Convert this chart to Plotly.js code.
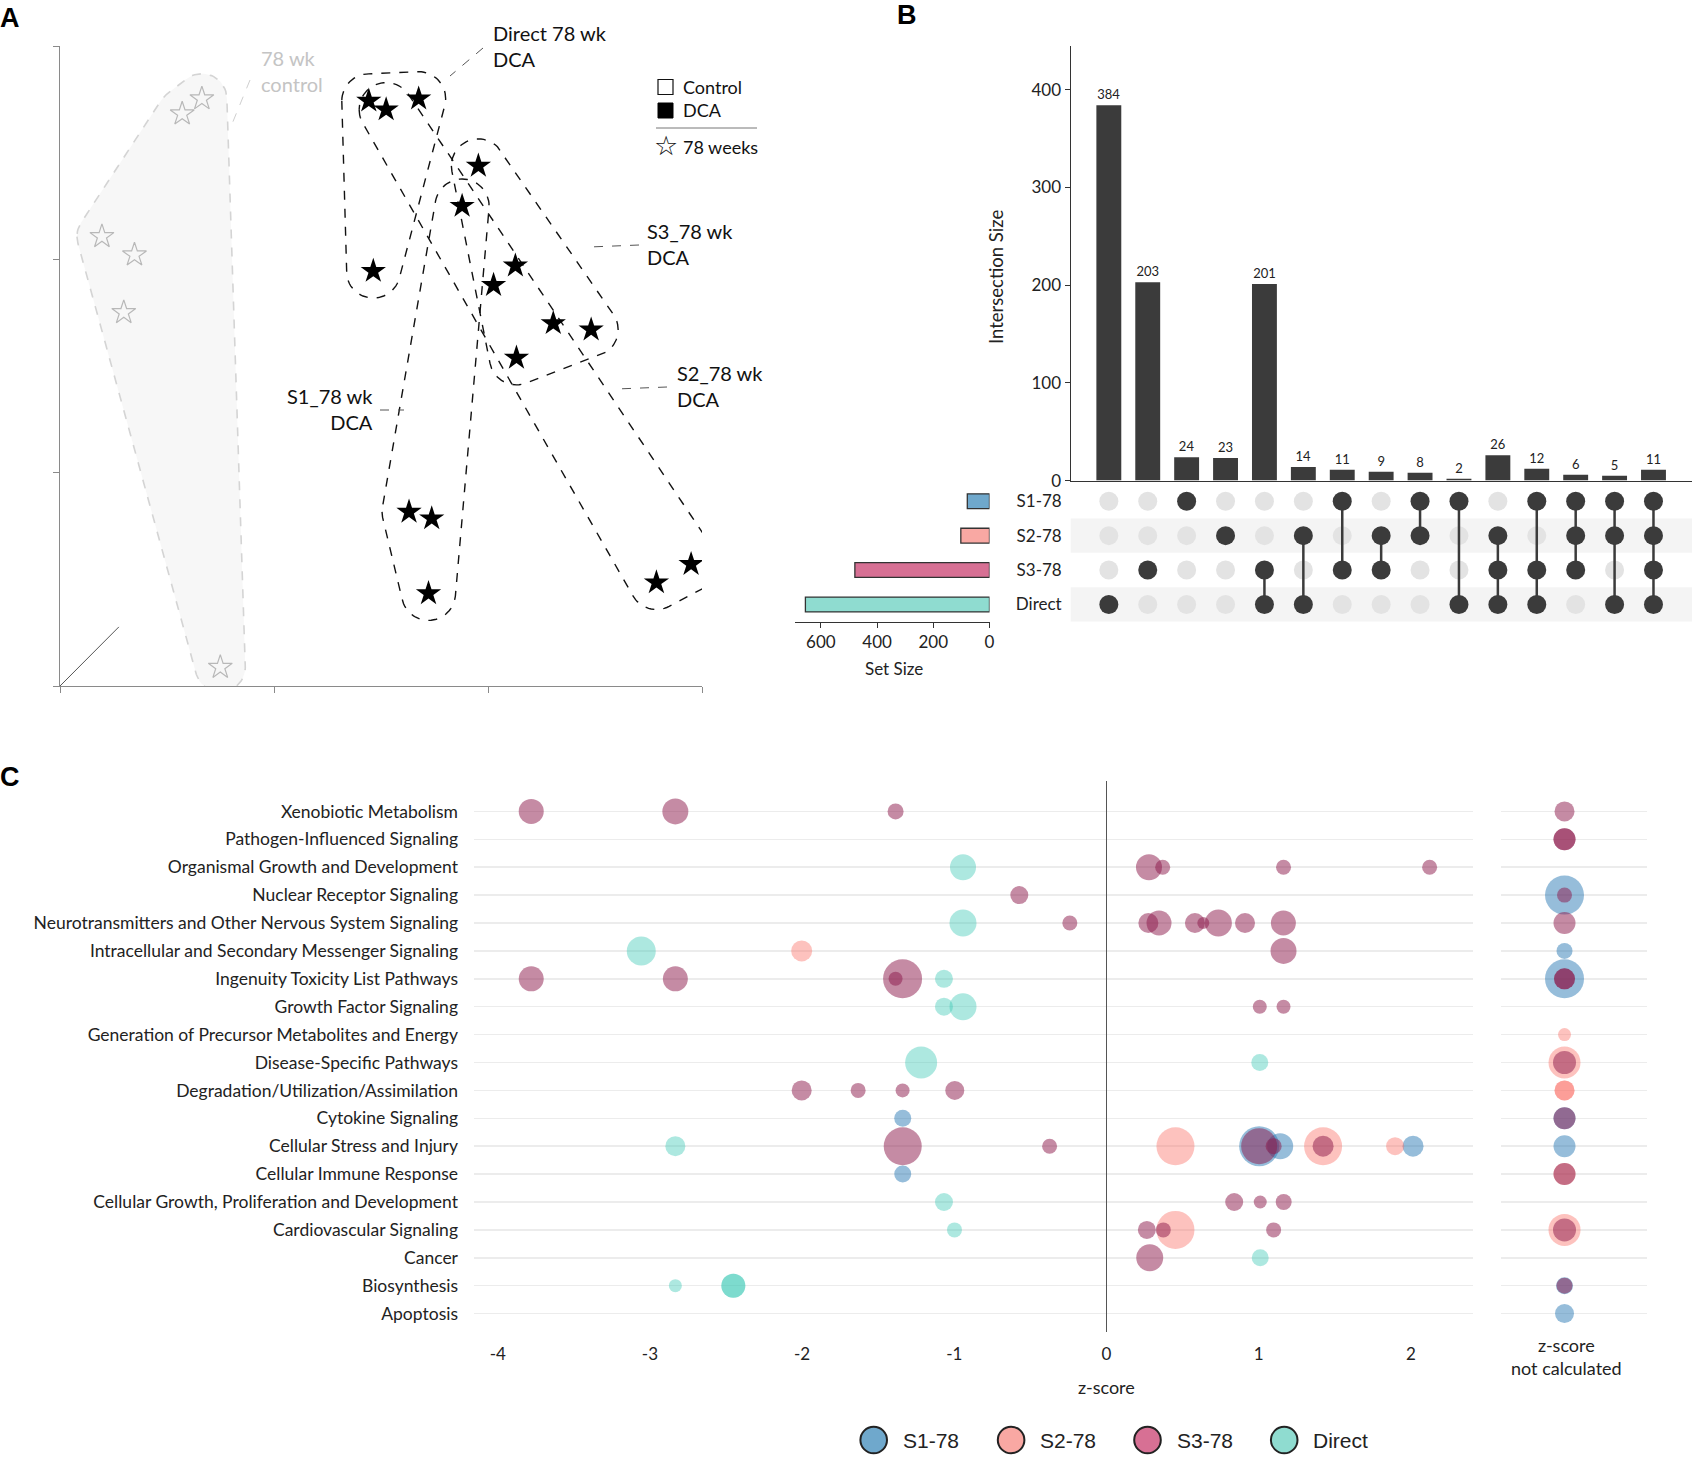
<!DOCTYPE html>
<html><head><meta charset="utf-8">
<script src="https://cdn.plot.ly/plotly-3.0.1.min.js"></script>
<style>html,body{margin:0;padding:0;background:#fff}</style>
</head><body><div id="chart" style="width:1701px;height:1460px"></div>
<script>
// ---------------- Panel A data (PCA scores) ----------------
const controlPC1 = [0.663,0.571,0.196,0.348,0.298,0.749];
const controlPC2 = [2.753,2.682,2.107,2.021,1.751,0.088];
const directPC1 = [1.443,1.676,1.464];
const directPC2 = [2.743,2.753,1.945];
const s1PC1 = [1.879,1.631,1.737,1.722];
const s1PC2 = [2.250,0.816,0.785,0.434];
const s2PC1 = [1.524,2.026,2.787,2.949];
const s2PC2 = [2.702,1.879,0.485,0.571];
const s3PC1 = [1.955,2.305,2.482,2.133,2.128];
const s3PC2 = [2.438,1.700,1.670,1.538,1.970];

// ---------------- Panel B data (UpSet) ----------------
const setNames = ['S1-78','S2-78','S3-78','Direct'];
const setColors = ['#6fa8cc','#f9a8a3','#d77094','#8fdcd0'];
const intersectionSizes = [384,203,24,23,201,14,11,9,8,2,26,12,6,5,11];
const intersectionSets = [
  ['Direct'],['S3-78'],['S1-78'],['S2-78'],['S3-78','Direct'],['S2-78','Direct'],
  ['S1-78','S3-78'],['S2-78','S3-78'],['S1-78','S2-78'],['S1-78','Direct'],
  ['S2-78','S3-78','Direct'],['S1-78','S3-78','Direct'],['S1-78','S2-78','S3-78'],
  ['S1-78','S2-78','Direct'],['S1-78','S2-78','S3-78','Direct']];

// ---------------- Panel C data (pathway categories) ----------------
const categories = ['Xenobiotic Metabolism','Pathogen-Influenced Signaling','Organismal Growth and Development',
 'Nuclear Receptor Signaling','Neurotransmitters and Other Nervous System Signaling',
 'Intracellular and Secondary Messenger Signaling','Ingenuity Toxicity List Pathways','Growth Factor Signaling',
 'Generation of Precursor Metabolites and Energy','Disease-Specific Pathways','Degradation/Utilization/Assimilation',
 'Cytokine Signaling','Cellular Stress and Injury','Cellular Immune Response',
 'Cellular Growth, Proliferation and Development','Cardiovascular Signaling','Cancer','Biosynthesis','Apoptosis'];
const zTicks = [-4,-3,-2,-1,0,1,2];
const zTickText = ['-4','-3','-2','-1','0','1','2'];
const seriesNames = ['S1-78','S2-78','S3-78','Direct'];
const seriesDot = ['rgba(40,120,180,0.7)','rgba(250,110,100,0.6)','rgba(140,25,75,0.72)','rgba(60,200,180,0.6)'];

const s1Cat  = [11,12,12,12,13];
const s1Z    = [-1.339,1.003,1.141,2.014,-1.339];
const s1Size = [17,40,26,21,17];
const s1NcCat  = [3,5,6,11,12,17,18];
const s1NcSize = [39,16,39,22,22,17,19];

const s2Cat  = [5,12,12,12,15];
const s2Z    = [-2.003,0.453,1.423,1.896,0.453];
const s2Size = [21,38,38,18,38];
const s2NcCat  = [8,9,10,10,13,15];
const s2NcSize = [13,32,20,20,22,32];

const s3Cat  = [0,0,0, 2,2,2,2, 3, 4,4,4,4,4,4,4,4, 5, 6,6,6,6, 7,7, 10,10,10,10, 12,12,12,12,12, 14,14,14, 15,15,15, 16];
const s3Z    = [-3.78,-2.833,-1.386, 0.279,0.369,1.163,2.123, -0.573,
                -0.241,0.275,0.345,0.581,0.636,0.735,0.91,1.162, 1.163,
                -3.78,-2.833,-1.34,-1.386, 1.007,1.163, -2.003,-1.632,-1.34,-0.997,
                -1.339,-0.374,1.003,1.098,1.423, 0.839,1.01,1.164, 0.265,0.373,1.098, 0.284];
const s3Size = [25,26,16, 26,15,15,15, 18, 15,20,25,20,12,27,20,25, 26, 25,25,39,14, 14,14, 20,15,14,19,
                38,15,36,16,21, 18,13,16, 18,15,15, 27];
const s3NcCat  = [0,1,1,3,4,6,6,9,11,13,15,17];
const s3NcSize = [20,22,22,15,22,21,21,23,22,22,23,16];

const dirCat  = [2,4,5,6,7,7,9,9,12,14,15,16,17,17,17];
const dirZ    = [-0.943,-0.943,-3.057,-1.068,-1.068,-0.943,-1.218,1.007,-2.833,-1.068,-0.999,1.01,-2.833,-2.452,-2.452];
const dirSize = [26,27,29,18,18,27,32,17,20,18,15,17,13,24,24];
const dirNcCat  = [];
const dirNcSize = [];

// ---------------- helpers ----------------
const W=1701, H=1460;
const X = p => p/W, Y = p => 1 - p/H;
const A_X0=60, A_X1=702, A_Y0=686, A_Y1=46;        // panel A plot box (px)
const sxA=(A_X1-A_X0)/3, syA=(A_Y0-A_Y1)/3;        // px per unit

function convexHull(pts){
  pts = pts.slice().sort((a,b)=>a[0]-b[0]||a[1]-b[1]);
  const cross=(o,a,b)=>(a[0]-o[0])*(b[1]-o[1])-(a[1]-o[1])*(b[0]-o[0]);
  const lower=[],upper=[];
  for(const p of pts){while(lower.length>=2&&cross(lower[lower.length-2],lower[lower.length-1],p)<=0)lower.pop();lower.push(p);}
  for(let i=pts.length-1;i>=0;i--){const p=pts[i];while(upper.length>=2&&cross(upper[upper.length-2],upper[upper.length-1],p)<=0)upper.pop();upper.push(p);}
  upper.pop();lower.pop();return lower.concat(upper);
}
function roundedHull(xs, ys, r){
  const pts=[];
  xs.forEach((x,i)=>{for(let k=0;k<64;k++){const a=2*Math.PI*k/64;pts.push([x*sxA+r*Math.cos(a), ys[i]*syA+r*Math.sin(a)]);}});
  const h=convexHull(pts); h.push(h[0]);
  return {x:h.map(p=>p[0]/sxA), y:h.map(p=>p[1]/syA)};
}

const traces=[];
// Panel A hulls
const ch = roundedHull(controlPC1, controlPC2, 25);
traces.push({type:'scatter',mode:'lines',x:ch.x,y:ch.y,xaxis:'x4',yaxis:'y4',fill:'toself',fillcolor:'#f7f7f7',
  line:{color:'#d4d4d4',width:1.6,dash:'dash'},hoverinfo:'skip',showlegend:false});
[[directPC1,directPC2],[s1PC1,s1PC2],[s2PC1,s2PC2],[s3PC1,s3PC2]].forEach(g=>{
  const h=roundedHull(g[0],g[1],27);
  traces.push({type:'scatter',mode:'lines',x:h.x,y:h.y,xaxis:'x4',yaxis:'y4',
    line:{color:'#111',width:1.4,dash:'dash'},hoverinfo:'skip',showlegend:false});
});
traces.push({type:'scatter',mode:'markers',x:controlPC1,y:controlPC2,xaxis:'x4',yaxis:'y4',
  marker:{symbol:'star-open',size:18,color:'#b8b8b8',line:{width:1.2,color:'#b8b8b8'}},showlegend:false});
traces.push({type:'scatter',mode:'markers',x:[].concat(directPC1,s1PC1,s2PC1,s3PC1),y:[].concat(directPC2,s1PC2,s2PC2,s3PC2),
  xaxis:'x4',yaxis:'y4',marker:{symbol:'star',size:19,color:'#000'},showlegend:false});

// Panel B
const idx = intersectionSizes.map((_,i)=>i);
traces.push({type:'bar',x:idx,y:intersectionSizes,xaxis:'x',yaxis:'y',width:0.64,marker:{color:'#3b3b3b'},
  text:intersectionSizes.map(String),textposition:'outside',cliponaxis:false,
  textfont:{size:13,color:'#222',family:'Lato'},showlegend:false});
const inX=[],inY=[],acX=[],acY=[],lnX=[],lnY=[];
intersectionSets.forEach((sets,i)=>{
  const rows=sets.map(s=>setNames.indexOf(s));
  setNames.forEach((s,r)=>{ if(rows.includes(r)){acX.push(i);acY.push(r);} else {inX.push(i);inY.push(r);} });
  if(rows.length>1){lnX.push(i,i,null);lnY.push(Math.min(...rows),Math.max(...rows),null);}
});
traces.push({type:'scatter',mode:'markers',x:inX,y:inY,xaxis:'x',yaxis:'y2',marker:{size:19,color:'#e3e3e3'},showlegend:false});
traces.push({type:'scatter',mode:'lines',x:lnX,y:lnY,xaxis:'x',yaxis:'y2',line:{color:'#3b3b3b',width:2.5},showlegend:false,connectgaps:false});
traces.push({type:'scatter',mode:'markers',x:acX,y:acY,xaxis:'x',yaxis:'y2',marker:{size:19,color:'#3b3b3b'},showlegend:false});
const setSizes = setNames.map(s=>intersectionSets.reduce((acc,sets,i)=>acc+(sets.includes(s)?intersectionSizes[i]:0),0));
traces.push({type:'bar',orientation:'h',x:setSizes,y:setNames.map((_,i)=>i),xaxis:'x3',yaxis:'y2',width:0.43,
  marker:{color:setColors,line:{color:'#333',width:1.3}},showlegend:false});

// Panel C
const mainData=[[s1Cat,s1Z,s1Size],[s2Cat,s2Z,s2Size],[dirCat,dirZ,dirSize],[s3Cat,s3Z,s3Size]];
const ncData=[[s1NcCat,s1NcSize],[s2NcCat,s2NcSize],[dirNcCat,dirNcSize],[s3NcCat,s3NcSize]];
const drawOrder=[0,1,3,2]; // series index per mainData entry
mainData.forEach((d,k)=>{
  const si=drawOrder[k];
  traces.push({type:'scatter',mode:'markers',x:d[1],y:d[0],xaxis:'x5',yaxis:'y5',name:seriesNames[si],
    marker:{size:d[2],sizemode:'diameter',color:seriesDot[si],line:{width:0}},showlegend:false});
});
ncData.forEach((d,k)=>{
  const si=drawOrder[k];
  traces.push({type:'scatter',mode:'markers',x:d[0].map(()=>0),y:d[0],xaxis:'x6',yaxis:'y6',name:seriesNames[si],
    marker:{size:d[1],sizemode:'diameter',color:seriesDot[si],line:{width:0}},showlegend:false});
});

// ---------------- layout ----------------
const FONT='Lato';
const shapes=[], ann=[];
// panel A decorations
shapes.push({type:'line',xref:'x4',yref:'y4',x0:0,y0:0,x1:0.275,y1:0.277,line:{color:'#555',width:1}});
const leader=(x0,y0,x1,y1,c)=>shapes.push({type:'line',xref:'paper',yref:'paper',x0:X(x0),y0:Y(y0),x1:X(x1),y1:Y(y1),line:{color:c||'#555',width:1,dash:'dash'}});
leader(250,80,232,124,'#cfcfcf');
leader(483,48,450,76);
leader(639,245,589,247);
leader(667,387,616,389);
leader(380,410,404,410);
const lab=(x,y,t,anchor,color)=>ann.push({xref:'paper',yref:'paper',x:X(x),y:Y(y),text:t,showarrow:false,
  xanchor:anchor,yanchor:'middle',align:anchor,font:{family:FONT,size:20,color:color||'#111'}});
lab(259,71,'78 wk<br>control','left','#c4c4c4');
lab(491,46,'Direct 78 wk<br>DCA','left');
lab(645,244,'S3_78 wk<br>DCA','left');
lab(675,386,'S2_78 wk<br>DCA','left');
lab(375,409,'S1_78 wk<br>DCA','right');
// panel A legend
shapes.push({type:'rect',xref:'paper',yref:'paper',x0:X(658),x1:X(673),y0:Y(94.5),y1:Y(79.5),line:{color:'#111',width:1.2},fillcolor:'#fff'});
shapes.push({type:'rect',xref:'paper',yref:'paper',x0:X(658),x1:X(673),y0:Y(118),y1:Y(103),line:{color:'#000',width:1},fillcolor:'#000'});
shapes.push({type:'line',xref:'paper',yref:'paper',x0:X(656),x1:X(757),y0:Y(128),y1:Y(128),line:{color:'#777',width:1}});
ann.push({xref:'paper',yref:'paper',x:X(665.5),y:Y(146),text:'☆',showarrow:false,xanchor:'center',yanchor:'middle',font:{family:'DejaVu Sans',size:27,color:'#111'}});
const legA=(y,t)=>ann.push({xref:'paper',yref:'paper',x:X(681),y:Y(y),text:t,showarrow:false,xanchor:'left',yanchor:'middle',font:{family:FONT,size:18,color:'#111'}});
legA(87,'Control'); legA(110.5,'DCA'); legA(147,'78 weeks');

// panel letters
const letter=(x,y,t)=>ann.push({xref:'paper',yref:'paper',x:X(x),y:Y(y),text:'<b>'+t+'</b>',showarrow:false,xanchor:'center',yanchor:'middle',font:{family:'Liberation Sans',size:27,color:'#000'}});
letter(10,18,'A'); letter(907,15,'B'); letter(10,777,'C');

// panel B
[1,3].forEach(r=>shapes.push({type:'rect',xref:'paper',yref:'y2',x0:X(1070.7),x1:X(1692),y0:r-0.5,y1:r+0.5,fillcolor:'#f4f4f4',line:{width:0},layer:'below'}));
ann.push({xref:'paper',yref:'paper',x:X(996),y:Y(277),text:'Intersection Size',textangle:-90,showarrow:false,xanchor:'center',yanchor:'middle',font:{family:FONT,size:18.5,color:'#222'}});
ann.push({xref:'paper',yref:'paper',x:X(894),y:Y(668),text:'Set Size',showarrow:false,xanchor:'center',yanchor:'middle',font:{family:FONT,size:17,color:'#222'}});

// panel C
ann.push({xref:'paper',yref:'paper',x:X(1106.5),y:Y(1387),text:'z-score',showarrow:false,xanchor:'center',yanchor:'middle',font:{family:FONT,size:18,color:'#222'}});
ann.push({xref:'paper',yref:'paper',x:X(1566),y:Y(1356),text:'z-score<br>not calculated',showarrow:false,xanchor:'center',yanchor:'middle',font:{family:FONT,size:18,color:'#222'}});
// legend C
const legX=[873.7,1011.1,1147.5,1284.2], legTX=[901,1038,1175,1311], legY=1440, legR=13.3;
seriesNames.forEach((n,i)=>{
  shapes.push({type:'circle',xref:'paper',yref:'paper',x0:X(legX[i]-legR),x1:X(legX[i]+legR),y0:Y(legY+legR),y1:Y(legY-legR),
    fillcolor:setColors[i],line:{color:'#222',width:2}});
  ann.push({xref:'paper',yref:'paper',x:X(legTX[i]),y:Y(legY),text:n,showarrow:false,xanchor:'left',yanchor:'middle',font:{family:'Liberation Sans',size:21,color:'#222'}});
});

const noGrid={showgrid:false,zeroline:false};
const layout={
  width:W,height:H,margin:{l:0,r:0,t:0,b:0},paper_bgcolor:'#fff',plot_bgcolor:'rgba(0,0,0,0)',
  font:{family:FONT,color:'#222'},showlegend:false,hovermode:false,
  xaxis:Object.assign({domain:[X(1070.7),X(1692)],range:[-0.98,14.99],anchor:'y',showline:true,linecolor:'#333',linewidth:1.5,showticklabels:false,ticks:''},noGrid),
  yaxis:Object.assign({domain:[Y(480.6),Y(45.6)],range:[0,445],anchor:'x',showline:true,linecolor:'#333',linewidth:1.2,ticks:'outside',ticklen:5,tickcolor:'#333',
    tickvals:[0,100,200,300,400],tickfont:{size:17,color:'#222'}},noGrid),
  yaxis2:Object.assign({domain:[Y(621.7),Y(484)],range:[3.5,-0.5],anchor:'x',tickvals:[0,1,2,3],ticktext:setNames,ticks:'',showline:false,
    tickfont:{size:17,color:'#222'},ticklabelstandoff:8},noGrid),
  xaxis3:Object.assign({domain:[X(795),X(989.5)],range:[692,0],anchor:'y2',showline:true,linecolor:'#333',linewidth:1.2,ticks:'outside',ticklen:5,tickcolor:'#333',
    tickvals:[0,200,400,600],tickfont:{size:17,color:'#222'}},noGrid),
  xaxis4:Object.assign({domain:[X(A_X0),X(A_X1)],range:[0,3],anchor:'y4',showline:true,linecolor:'#8a8a8a',linewidth:1,ticks:'outside',ticklen:6,tickcolor:'#8a8a8a',
    tickvals:[0,1,2,3],showticklabels:false},noGrid),
  yaxis4:Object.assign({domain:[Y(A_Y0),Y(A_Y1)],range:[0,3],anchor:'x4',showline:true,linecolor:'#8a8a8a',linewidth:1,ticks:'outside',ticklen:6,tickcolor:'#8a8a8a',
    tickvals:[0,1,2,3],showticklabels:false},noGrid),
  xaxis5:{domain:[X(474),X(1473)],range:[-4.156,2.408],anchor:'y5',showgrid:false,zeroline:true,zerolinecolor:'#555',zerolinewidth:1,
    tickvals:zTicks,ticktext:zTickText,ticks:'',tickfont:{size:17,color:'#222'},ticklabelstandoff:10,showline:false},
  yaxis5:{domain:[Y(1332),Y(781)],range:[18.66,-1.09],anchor:'x5',tickvals:categories.map((_,i)=>i),ticktext:categories,showgrid:true,gridcolor:'#ececec',gridwidth:1.5,
    zeroline:false,ticks:'',ticklabelstandoff:15,tickfont:{size:17.5,color:'#222'},showline:false},
  xaxis6:Object.assign({domain:[X(1501),X(1647)],range:[-0.87,1.13],anchor:'y6',showticklabels:false,ticks:'',showline:false},noGrid),
  yaxis6:{domain:[Y(1332),Y(781)],range:[18.66,-1.09],anchor:'x6',tickvals:categories.map((_,i)=>i),showticklabels:false,showgrid:true,gridcolor:'#ececec',gridwidth:1.5,
    zeroline:false,ticks:'',showline:false},
  shapes:shapes,annotations:ann
};
Plotly.newPlot('chart',traces,layout,{displayModeBar:false,staticPlot:true});
</script></body></html>
